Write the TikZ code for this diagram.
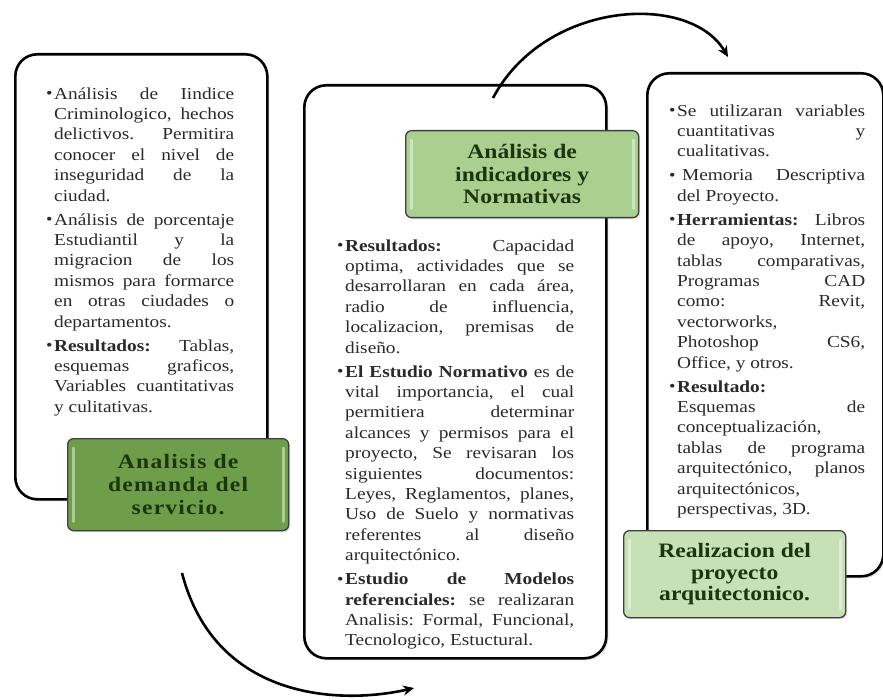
\documentclass[tikz,border=0pt]{standalone}
\usepackage{fontspec}
\setmainfont{Liberation Serif}[FakeStretch=1.15]
\newfontfamily\labelfont{Liberation Serif}[FakeStretch=1.15]
\newfontfamily\spacedlabelfont{Liberation Serif}[FakeStretch=1.15,LetterSpace=6]
\usetikzlibrary{arrows.meta,shadows}
\definecolor{textgray}{HTML}{2A2A2A}
\definecolor{labeltext}{HTML}{1B350E}
\definecolor{greenA}{HTML}{6F9E4A}
\definecolor{greenB}{HTML}{A9D08E}
\definecolor{greenC}{HTML}{C7E0B5}
\newcommand{\bodysetup}{\setlength{\parskip}{3.6pt}\hyphenpenalty=10000\exhyphenpenalty=10000\tolerance=10000\hbadness=10000}
\newcommand{\bitem}{\par\hangindent=8pt\hangafter=1\noindent\makebox[8pt][l]{\raisebox{0.5pt}{\fontsize{16}{12}\selectfont •}}}
\tikzset{
  bigbox/.style={draw=black, line width=2.6pt, rounded corners=22pt, fill=white,
    drop shadow={shadow xshift=2pt, shadow yshift=-2pt, opacity=0.25},
    anchor=north west, inner sep=0pt},
  labelbox/.style={draw=black!75, line width=1.3pt, rounded corners=6pt,
    anchor=north west, inner sep=0pt, align=center, text=labeltext,
    drop shadow={shadow xshift=1.5pt, shadow yshift=-1.5pt, opacity=0.25}},
  bevel/.style={white, opacity=0.45, line width=3pt, line cap=round},
  bodytext/.style={anchor=north west, inner sep=0pt, align=justify, text=textgray,
    font=\fontsize{16.8}{20.4}\selectfont},
  flowarrow/.style={line width=2.6pt, -{Stealth[length=11pt,width=10pt]}}
}
\begin{document}
\begin{tikzpicture}[x=1pt,y=-1pt]
\useasboundingbox (0,0) rectangle (883,700);
\fill[white] (0,0) rectangle (883,700);

% big boxes
\node[bigbox, minimum width=252pt, minimum height=445pt] (box1) at (14,53) {};
\node[bigbox, minimum width=302pt, minimum height=573pt] (box2) at (303,84) {};
\node[bigbox, minimum width=236pt, minimum height=503pt] (box3) at (646,72) {};

% body texts
\node[bodytext, text width=188pt] (txt1) at (46,75) {\bodysetup
\bitem Análisis~de~Iindice\linebreak Criminologico,~hechos\linebreak delictivos.~Permitira\linebreak conocer~el~nivel~de\linebreak inseguridad~de~la\linebreak ciudad.
\bitem Análisis~de~porcentaje\linebreak Estudiantil~y~la\linebreak migracion~de~los\linebreak mismos~para~formarce\linebreak en~otras~ciudades~o\linebreak departamentos.
\bitem \textbf{Resultados:}~Tablas,\linebreak esquemas~graficos,\linebreak Variables~cuantitativas\linebreak y~culitativas.\par};

\node[bodytext, text width=237pt] (txt2) at (337,227) {\bodysetup
\bitem \textbf{Resultados:}~Capacidad\linebreak optima,~actividades~que~se\linebreak desarrollaran~en~cada~área,\linebreak radio~de~influencia,\linebreak localizacion,~premisas~de\linebreak diseño.
\bitem \textbf{El~Estudio~Normativo}~es~de\linebreak vital~importancia,~el~cual\linebreak permitiera~determinar\linebreak alcances~y~permisos~para~el\linebreak proyecto,~Se~revisaran~los\linebreak siguientes~documentos:\linebreak Leyes,~Reglamentos,~planes,\linebreak Uso~de~Suelo~y~normativas\linebreak referentes~al~diseño\linebreak arquitectónico.
\bitem \textbf{Estudio~de~Modelos}\linebreak \textbf{referenciales:}~se~realizaran\linebreak Analisis:~Formal,~Funcional,\linebreak Tecnologico,~Estuctural.\par};

\node[bodytext, text width=196pt] (txt3) at (669,92) {\bodysetup
\bitem Se~utilizaran~variables\linebreak cuantitativas~y\linebreak cualitativas.
\bitem \hspace{5pt}Memoria~Descriptiva\linebreak del~Proyecto.
\bitem \textbf{Herramientas:}~Libros\linebreak de~apoyo,~Internet,\linebreak tablas~comparativas,\linebreak Programas~CAD\linebreak como:~Revit,\linebreak vectorworks,\linebreak Photoshop~CS6,\linebreak Office,~y~otros.
\bitem \textbf{Resultado:}\linebreak Esquemas~de\linebreak conceptualización,\linebreak tablas~de~programa\linebreak arquitectónico,~planos\linebreak arquitectónicos,\linebreak perspectivas,~3D.\par};

% label boxes
\node[labelbox, fill=greenA, minimum width=221pt, minimum height=92pt,
  font={\spacedlabelfont\fontsize{20.5}{23}\selectfont\bfseries}] (lab1) at (67,438)
  {Analisis de\\demanda del\\servicio.};
\draw[bevel] ([xshift=6pt,yshift=-10pt]lab1.north west) -- ([xshift=6pt,yshift=10pt]lab1.south west);
\draw[bevel] ([xshift=-6pt,yshift=-10pt]lab1.north east) -- ([xshift=-6pt,yshift=10pt]lab1.south east);

\node[labelbox, fill=greenB, minimum width=233pt, minimum height=87pt,
  font={\labelfont\fontsize{20.5}{22.5}\selectfont\bfseries}] (lab2) at (405,130)
  {Análisis de\\indicadores y\\Normativas};
\draw[bevel] ([xshift=6pt,yshift=-10pt]lab2.north west) -- ([xshift=6pt,yshift=10pt]lab2.south west);
\draw[bevel] ([xshift=-6pt,yshift=-10pt]lab2.north east) -- ([xshift=-6pt,yshift=10pt]lab2.south east);

\node[labelbox, fill=greenC, minimum width=222pt, minimum height=87pt,
  font={\labelfont\fontsize{20.5}{21.5}\selectfont\bfseries}] (lab3) at (623,530)
  {Realizacion del\\proyecto\\arquitectonico.};
\draw[bevel] ([xshift=6pt,yshift=-10pt]lab3.north west) -- ([xshift=6pt,yshift=10pt]lab3.south west);
\draw[bevel] ([xshift=-6pt,yshift=-10pt]lab3.north east) -- ([xshift=-6pt,yshift=10pt]lab3.south east);

% arrows
\coordinate (a1s) at (493,98);
\coordinate (a1e) at (728,57);
\draw[flowarrow] (a1s) .. controls (545,0) and (690,-8) .. (a1e);
\coordinate (a2s) at (182,573);
\coordinate (a2e) at (414,688);
\draw[flowarrow] (a2s) .. controls (215,700) and (340,705) .. (a2e);
\end{tikzpicture}
\end{document}
